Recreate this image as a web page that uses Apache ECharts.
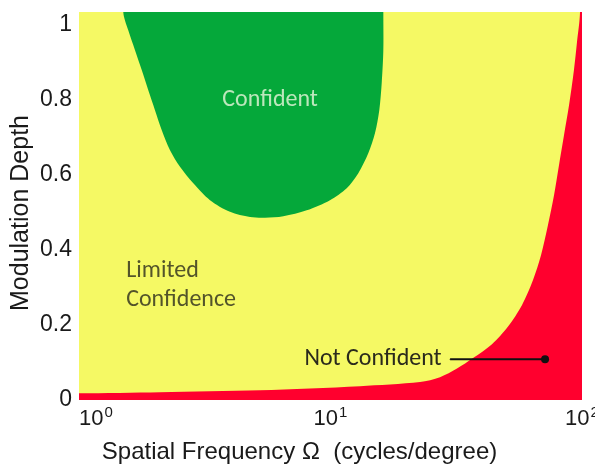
<!DOCTYPE html>
<html><head><meta charset="utf-8">
<script src="https://cdn.jsdelivr.net/npm/echarts@6/dist/echarts.min.js"></script>
<style>html,body{margin:0;padding:0;background:#fff}#c{width:595px;height:467px}</style>
</head><body><div id="c"></div>
<script>
// Spatial frequency (cycles/degree) and modulation depth
const xTicks = [1, 10, 100];
const yTicks = [0, 0.2, 0.4, 0.6, 0.8, 1];
// lower boundary of the "Confident" region (left to right)
const greenX = [1.50, 1.57, 1.67, 1.776, 1.886, 2.005, 2.132, 2.301, 2.521, 2.848, 3.318, 3.985, 4.786, 5.49, 6.49, 8.04, 9.95, 11.6, 12.9, 14.13, 15.03, 15.63, 15.98, 16.22, 16.22];
const greenY = [1.035, 0.986, 0.933, 0.880, 0.826, 0.773, 0.720, 0.666, 0.622, 0.578, 0.533, 0.502, 0.488, 0.486, 0.490, 0.506, 0.533, 0.565, 0.605, 0.658, 0.712, 0.773, 0.845, 0.933, 1.035];
// upper boundary of the "Not Confident" region (left to right)
const redX = [1, 2.099, 5.245, 13.1, 22.7, 27.25, 31.84, 36.87, 43.86, 50.8, 57.7, 63.86, 68.7, 73.2, 77.4, 81.0, 84.8, 88.8, 92.9, 95.5, 98.2];
const redY = [0.018, 0.021, 0.026, 0.037, 0.048, 0.061, 0.084, 0.112, 0.149, 0.196, 0.253, 0.320, 0.386, 0.466, 0.546, 0.626, 0.706, 0.786, 0.880, 0.954, 1.035];
// region labels
const regionNames = ['Confident', 'Limited\nConfidence'];
const regionX = [5.75, 1.54];
const regionY = [0.80, 0.305];
// "Not Confident" pointer
const pointerText = 'Not Confident';
const pointerX = [29.9, 71.3];
const pointerY = [0.109, 0.109];

const xMin = 1, xMax = 100, yMin = 0, yMax = 1.035;
const C_YELLOW = '#f5f964', C_GREEN = '#05a83a', C_RED = '#ff002e';

function polygonSeries(name, xs, ys, closeX, closeY, color, z) {
  return {
    type: 'custom', name: name, coordinateSystem: 'cartesian2d', clip: true, z: z,
    data: xs.map((x, i) => [x, ys[i]]),
    silent: true,
    renderItem: function (params, api) {
      if (params.dataIndex !== 0) return null;
      const pts = xs.map((x, i) => api.coord([x, ys[i]]));
      closeX.forEach((x, i) => pts.push(api.coord([x, closeY[i]])));
      return { type: 'polygon', shape: { points: pts, smooth: 0.3 }, style: { fill: color } };
    }
  };
}

const chart = echarts.init(document.getElementById('c'), null, { renderer: 'canvas' });
const FONT = 'Liberation Sans, Arial, Helvetica, sans-serif';
const NOTE_FONT = 'Carlito, Lato, "Open Sans", sans-serif';
const lastG = greenX.length - 1, lastR = redX.length - 1;

chart.setOption({
  animation: false,
  grid: { left: 79, right: 13, top: 12, bottom: 67, show: true, backgroundColor: C_YELLOW, borderWidth: 0,
          containLabel: false, outerBoundsMode: 'none' },
  xAxis: {
    type: 'log', logBase: 10, min: xMin, max: xMax,
    name: 'Spatial Frequency \u03A9  (cycles/degree)', nameLocation: 'middle', nameGap: 40,
    nameTextStyle: { fontFamily: FONT, fontSize: 24, color: '#1a1a1a', padding: [0, 62, 0, 0] },
    axisLine: { show: false }, axisTick: { show: false }, splitLine: { show: false }, minorTick: { show: false },
    axisLabel: {
      margin: 5, alignMinLabel: 'left', color: '#1a1a1a',
      formatter: function (v) { return '{b|10}{s|' + Math.round(Math.log10(v)) + '}'; },
      rich: {
        b: { fontFamily: FONT, fontSize: 22, color: '#1a1a1a' },
        s: { fontFamily: FONT, fontSize: 15, color: '#1a1a1a', padding: [0, 0, 13, 1] }
      }
    }
  },
  yAxis: {
    type: 'value', min: yMin, max: yMax, interval: 0.2,
    name: 'Modulation Depth', nameLocation: 'middle', nameGap: 45, nameRotate: 90, nameMoveOverlap: false,
    nameTextStyle: { fontFamily: FONT, fontSize: 25, color: '#1a1a1a', padding: [0, 14, 0, 0] },
    axisLine: { show: false }, axisTick: { show: false }, splitLine: { show: false },
    axisLabel: {
      margin: 7, showMaxLabel: false, fontFamily: FONT, fontSize: 23, color: '#1a1a1a',
      formatter: function (v) { const r = Math.round(v * 10) / 10; return yTicks.indexOf(r) >= 0 ? String(r) : ''; }
    }
  },
  series: [
    polygonSeries('Confident', greenX, greenY, [greenX[lastG], greenX[0]], [1.3, 1.3], C_GREEN, 2),
    polygonSeries('Not Confident', redX, redY, [redX[lastR], 160, 160, 0.6, 0.6], [1.3, 1.3, -0.2, -0.2, redY[0]], C_RED, 3),
    {
      type: 'scatter', z: 5, silent: true, symbolSize: 0,
      data: regionNames.map((n, i) => ({ name: n, value: [regionX[i], regionY[i]],
        label: i === 0
          ? { show: true, position: 'inside', formatter: '{b}', fontFamily: NOTE_FONT, fontSize: 24, color: '#eaf6dc' }
          : { show: true, position: 'right', distance: 0, align: 'left', formatter: '{b}', fontFamily: NOTE_FONT, fontSize: 24, lineHeight: 29, color: '#2a2a1c' } }))
    },
    {
      type: 'line', z: 6, silent: true, showSymbol: true,
      data: pointerX.map((x, i) => ({ value: [x, pointerY[i]],
        symbol: 'circle', symbolSize: i === 0 ? 1 : 8,
        label: i === 0 ? { show: true, position: 'left', distance: 8, formatter: pointerText, fontFamily: NOTE_FONT, fontSize: 24, color: '#2a2a1c' } : { show: false } })),
      lineStyle: { color: '#111', width: 2 }, itemStyle: { color: '#111' }
    }
  ]
});
</script></body></html>
